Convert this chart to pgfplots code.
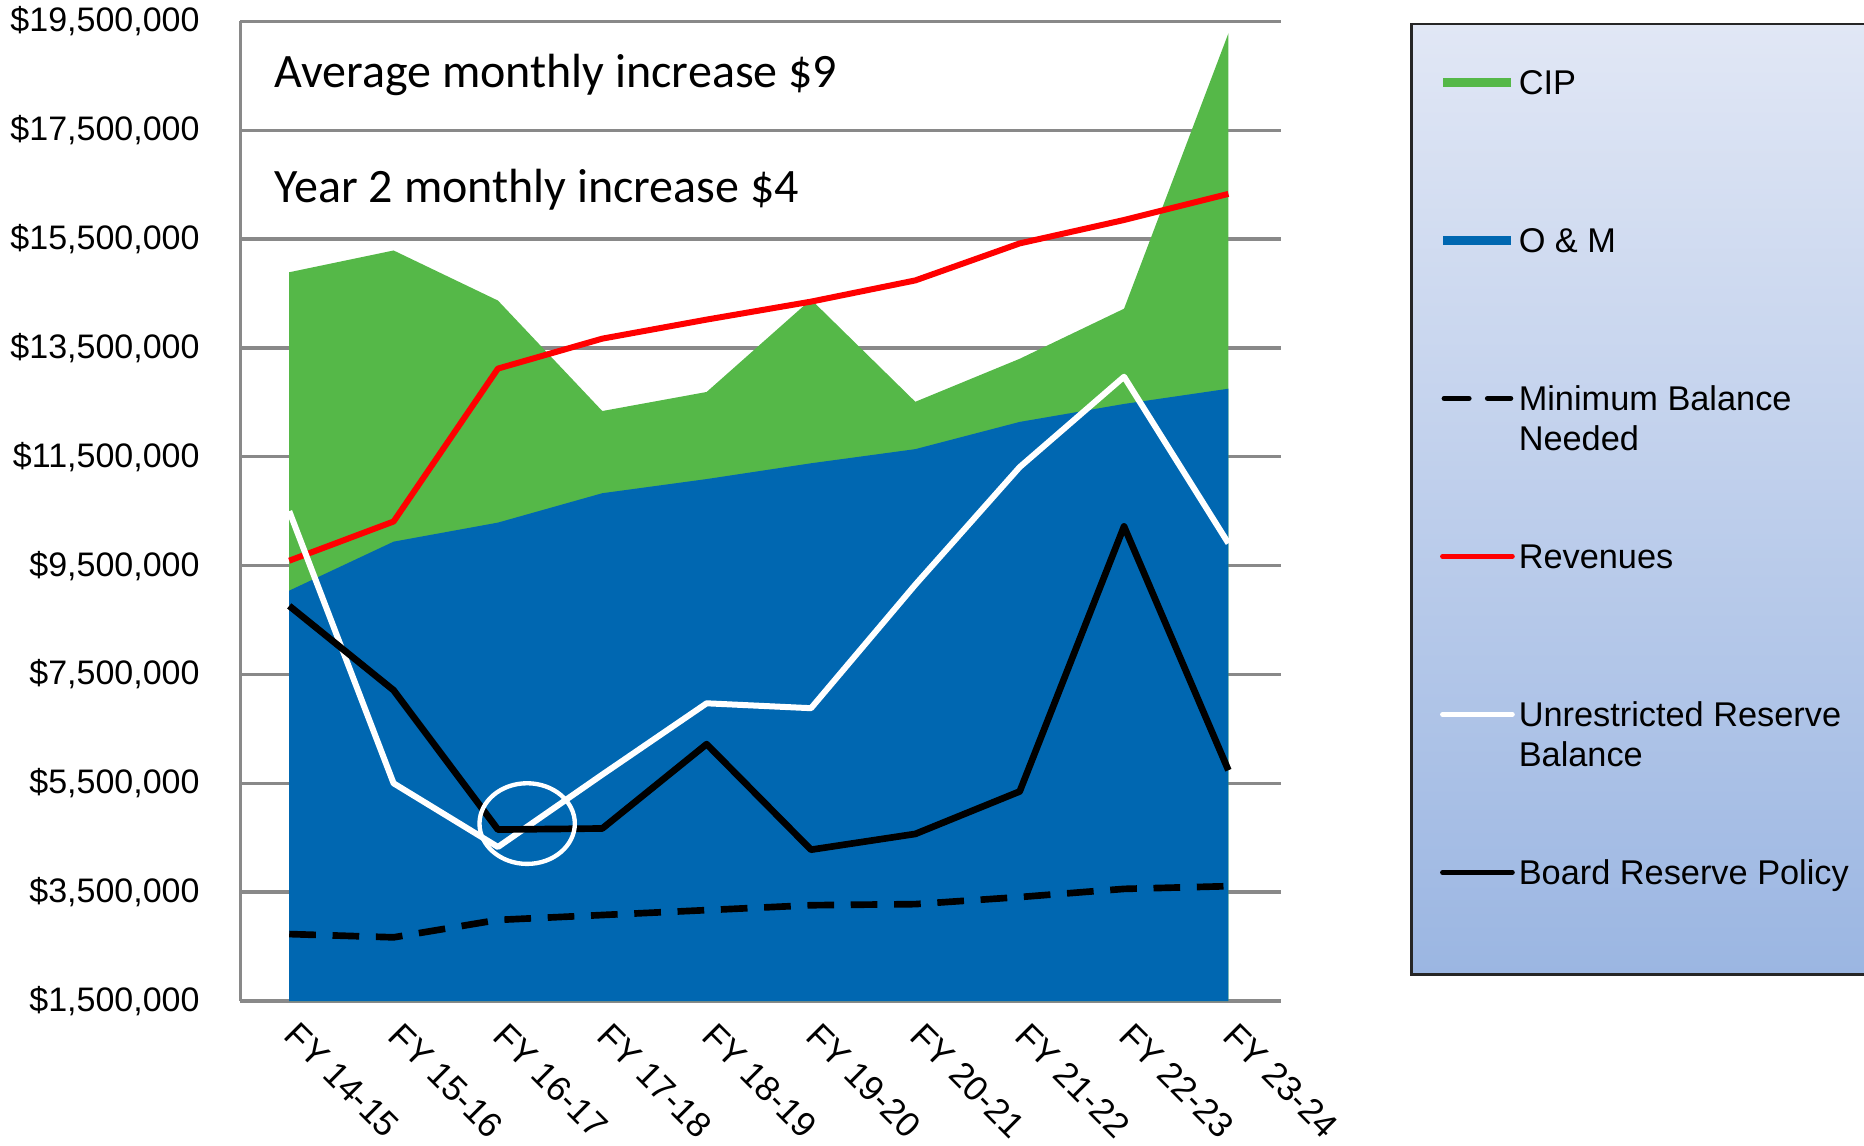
\documentclass[border=0pt]{standalone}
\usepackage{pgfplots}
\pgfplotsset{compat=1.18}
\usepackage{fontspec}
\setmainfont{Liberation Sans}
\newfontfamily\calibri{Carlito}
\definecolor{cipgreen}{RGB}{85,184,72}
\definecolor{omblue}{RGB}{0,103,177}
\definecolor{gridgray}{RGB}{137,137,137}
\definecolor{legtop}{RGB}{225,231,245}
\definecolor{legbot}{RGB}{155,182,226}
\begin{document}
\begin{tikzpicture}
\useasboundingbox (-72.06pt,-43.2pt) rectangle (487.14pt,300.3pt);
\begin{axis}[
  scale only axis, width=312.1pt, height=293.9pt,
  xmin=-0.47, xmax=9.5, ymin=1500000, ymax=19500000,
  axis x line=bottom, axis y line=left,
  axis line style={-, draw=gridgray, line width=1pt},
  ymajorgrids, grid style={gridgray, line width=1pt},
  tick style={draw=none}, major tick length=0pt,
  ytick={1500000,3500000,5500000,7500000,9500000,11500000,13500000,15500000,17500000,19500000},
  yticklabels={{\$1,500,000},{\$3,500,000},{\$5,500,000},{\$7,500,000},{\$9,500,000},{\$11,500,000},{\$13,500,000},{\$15,500,000},{\$17,500,000},{\$19,500,000}},
  yticklabel style={font=\fontsize{10.2}{12}\selectfont, inner sep=0pt, anchor=east, xshift=-12pt},
  xtick={0,1,2,3,4,5,6,7,8,9},
  xticklabels={FY 14-15,FY 15-16,FY 16-17,FY 17-18,FY 18-19,FY 19-20,FY 20-21,FY 21-22,FY 22-23,FY 23-24},
  xticklabel style={font=\fontsize{10.5}{12}\selectfont, xshift=3.2pt, yshift=-5.7pt, rotate=-45, anchor=north west, inner sep=0pt},
  scaled y ticks=false,
  legend style={at={(1.1245,0.9986)}, anchor=north west,
    draw=black!85, line width=0.8pt, top color=legtop, bottom color=legbot,
    inner xsep=8.6pt, inner ysep=13.1pt, row sep=25.4pt, column sep=1.2pt,
    font=\fontsize{10.3}{12.1}\selectfont,
    cells={anchor=base west},
    nodes={text height=8pt, text depth=14pt, inner sep=0pt}},
]
\addplot[draw=none, fill=cipgreen,
  legend image code/.code={\fill[cipgreen] (0.3pt,2.2pt) rectangle (20.7pt,5pt);}]
  coordinates {(0,14890000) (1,15290000) (2,14370000) (3,12340000) (4,12690000) (5,14390000) (6,12510000) (7,13300000) (8,14220000) (9,19280000)} \closedcycle;
\addlegendentry{\parbox[t]{160pt}{CIP}}
\addplot[draw=none, fill=omblue,
  legend image code/.code={\fill[omblue] (0.3pt,2.2pt) rectangle (20.7pt,5pt);}]
  coordinates {(0,9040000) (1,9940000) (2,10290000) (3,10830000) (4,11090000) (5,11380000) (6,11640000) (7,12140000) (8,12470000) (9,12750000)} \closedcycle;
\addlegendentry{\parbox[t]{160pt}{O \& M}}
\addplot[black, line width=2pt, dash pattern=on 8pt off 5pt, line join=round,
  legend image code/.code={\draw[black, line width=1.5pt, dash pattern=on 7.5pt off 5.5pt, line cap=round] (0.5pt,3.6pt) -- (20.5pt,3.6pt);}]
  coordinates {(0,2730000) (1,2670000) (2,2990000) (3,3080000) (4,3170000) (5,3260000) (6,3280000) (7,3410000) (8,3560000) (9,3610000)};
\addlegendentry{\parbox[t]{160pt}{Minimum Balance\\Needed}}
\addplot[red, line width=1.8pt, line join=round,
  legend image code/.code={\draw[red, line width=1.4pt, line cap=round] (0pt,3.6pt) -- (21pt,3.6pt);}]
  coordinates {(0,9590000) (1,10310000) (2,13120000) (3,13670000) (4,14020000) (5,14350000) (6,14740000) (7,15420000) (8,15850000) (9,16330000)};
\addlegendentry{\parbox[t]{160pt}{Revenues}}
\addplot[white, line width=1.8pt, line join=round,
  legend image code/.code={\draw[white, line width=1.4pt, line cap=round] (0pt,3.6pt) -- (21pt,3.6pt);}]
  coordinates {(0,10500000) (1,5500000) (2,4330000) (3,5660000) (4,6970000) (5,6880000) (6,9150000) (7,11310000) (8,12970000) (9,9910000)};
\addlegendentry{\parbox[t]{160pt}{Unrestricted Reserve\\Balance}}
\addplot[black, line width=2pt, line join=round,
  legend image code/.code={\draw[black, line width=1.4pt, line cap=round] (0pt,3.6pt) -- (21pt,3.6pt);}]
  coordinates {(0,8760000) (1,7210000) (2,4650000) (3,4670000) (4,6220000) (5,4280000) (6,4570000) (7,5350000) (8,10220000) (9,5740000)};
\addlegendentry{\parbox[t]{160pt}{Board Reserve Policy}}
\node[anchor=west, inner sep=0pt, font=\calibri\fontsize{14.4}{17}\selectfont] at (axis cs:-0.148,18520000) {Average monthly increase \$9};
\node[anchor=west, inner sep=0pt, font=\calibri\fontsize{14.4}{17}\selectfont] at (axis cs:-0.148,16400000) {Year 2 monthly increase \$4};
\draw[white, line width=1.3pt] (axis cs:2.28,4760000) ellipse [x radius=14.3pt, y radius=12.1pt];
\end{axis}
\end{tikzpicture}
\end{document}
